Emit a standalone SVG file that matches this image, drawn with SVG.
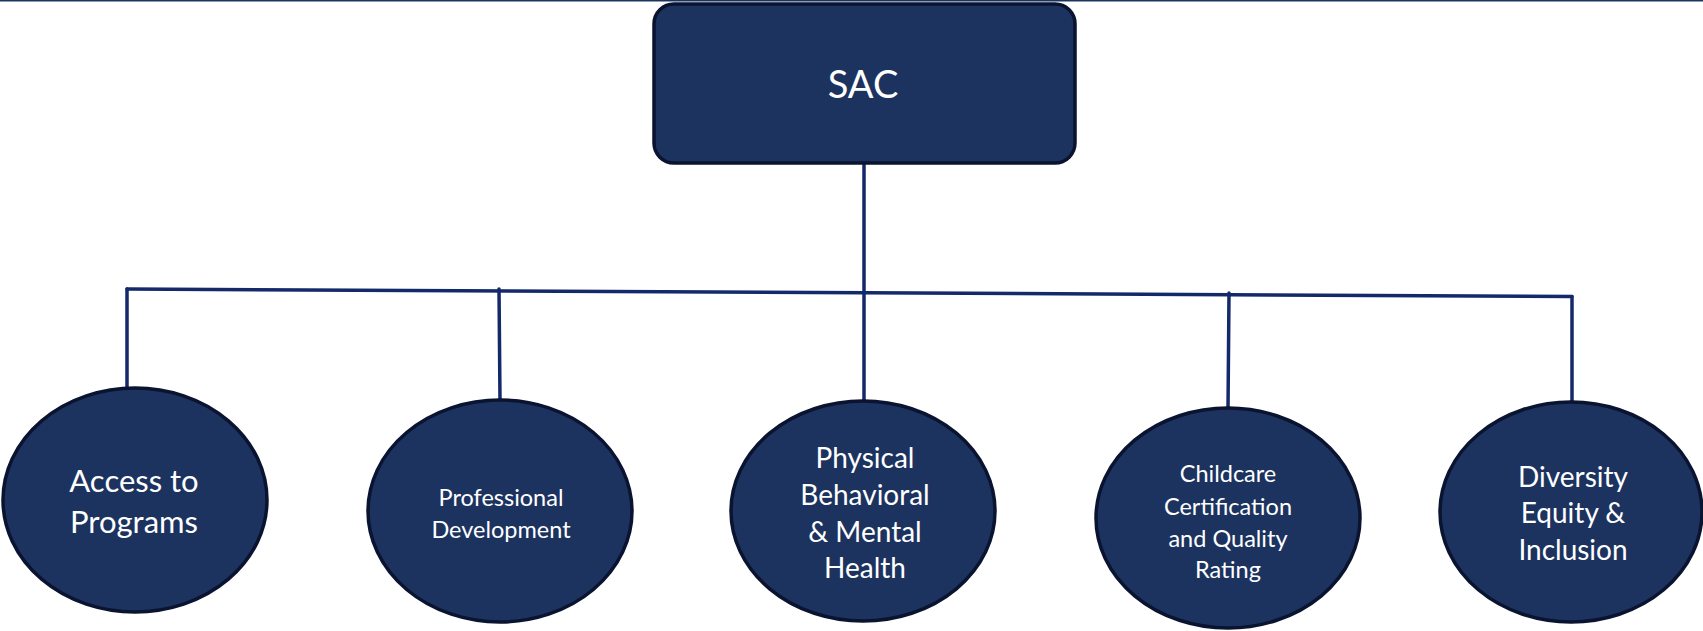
<svg xmlns="http://www.w3.org/2000/svg" width="1703" height="631" viewBox="0 0 1703 631">
<style>
.node{fill:#1c3360;stroke:#0a1430;stroke-width:3.5}
.conn{stroke:#14296a;stroke-width:3.5;fill:none;stroke-linecap:round}
.t{fill:#ffffff;font-family:Lato,"Open Sans","Liberation Sans",sans-serif;text-anchor:middle}
</style>
<rect x="0" y="0" width="1703" height="631" fill="#ffffff"/>
<line x1="0" y1="0.7" x2="1703" y2="0.7" stroke="#1c355e" stroke-width="1.5"/>
<g id="connectors">
<line class="conn" x1="864" y1="163" x2="864" y2="401"/>
<line class="conn" x1="127" y1="289" x2="1572" y2="296.5"/>
<line class="conn" x1="127" y1="289" x2="127" y2="388"/>
<line class="conn" x1="499" y1="289" x2="500" y2="400"/>
<line class="conn" x1="1229" y1="293" x2="1228" y2="409"/>
<line class="conn" x1="1572" y1="296.5" x2="1572" y2="402"/>
</g>
<g id="sac">
<rect class="node" x="654" y="4" width="421" height="159" rx="20" ry="20"/>
<text class="t" x="863" y="98" font-size="38">SAC</text>
</g>
<g id="access">
<ellipse class="node" cx="135" cy="500" rx="132" ry="112"/>
<text class="t" x="134" y="492" font-size="31">Access to</text>
<text class="t" x="134" y="533" font-size="31">Programs</text>
</g>
<g id="professional">
<ellipse class="node" cx="500" cy="511" rx="132" ry="111"/>
<text class="t" x="501" y="506" font-size="23.5">Professional</text>
<text class="t" x="501" y="538" font-size="23.5">Development</text>
</g>
<g id="physical">
<ellipse class="node" cx="863" cy="511" rx="132" ry="110"/>
<text class="t" x="865" y="468" font-size="28">Physical</text>
<text class="t" x="865" y="505" font-size="28">Behavioral</text>
<text class="t" x="865" y="542" font-size="28">&amp; Mental</text>
<text class="t" x="865" y="578" font-size="28">Health</text>
</g>
<g id="childcare">
<ellipse class="node" cx="1228" cy="518" rx="132" ry="110"/>
<text class="t" x="1228" y="482" font-size="23.5">Childcare</text>
<text class="t" x="1228" y="515" font-size="23.5">Certification</text>
<text class="t" x="1228" y="547" font-size="23.5">and Quality</text>
<text class="t" x="1228" y="578" font-size="23.5">Rating</text>
</g>
<g id="diversity">
<ellipse class="node" cx="1571" cy="512" rx="131" ry="110"/>
<text class="t" x="1573" y="487" font-size="28">Diversity</text>
<text class="t" x="1573" y="523" font-size="28">Equity &amp;</text>
<text class="t" x="1573" y="560" font-size="28">Inclusion</text>
</g>
</svg>
